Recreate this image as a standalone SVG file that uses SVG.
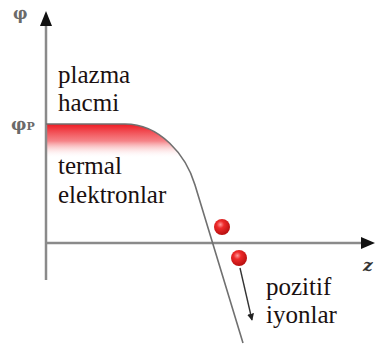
<svg xmlns="http://www.w3.org/2000/svg" width="375" height="349" viewBox="0 0 375 349">
<style>
.lbl{font-family:'Liberation Serif','Times New Roman',serif;font-size:25px;fill:#1a1010}
.sym{font-family:'DejaVu Serif',serif;fill:#6a6a6a;font-weight:bold}
.axis{stroke:#8a8a8a;stroke-width:2.5;fill:none}
</style>
<defs>
<linearGradient id="fade" gradientUnits="userSpaceOnUse" x1="0" y1="124" x2="0" y2="158">
<stop offset="0" stop-color="#ee1a22" stop-opacity="1"/>
<stop offset="0.5" stop-color="#f25a60" stop-opacity="0.75"/>
<stop offset="1" stop-color="#ffffff" stop-opacity="0"/>
</linearGradient>
<radialGradient id="ball" cx="0.4" cy="0.35" r="0.65">
<stop offset="0" stop-color="#ff9a9a"/>
<stop offset="0.35" stop-color="#ee2a2a"/>
<stop offset="1" stop-color="#b80f0f"/>
</radialGradient>
<marker id="ah" viewBox="0 0 10 10" refX="9" refY="5" markerWidth="7" markerHeight="7" orient="auto" markerUnits="userSpaceOnUse">
<path d="M0,0 L10,5 L0,10 Z" fill="#222"/>
</marker>
</defs>
<g id="fill">
<path d="M46,124 H125 C160,124 186,155 195,185 L46,185 Z" fill="url(#fade)"/>
</g>
<g id="axes">
<line class="axis" x1="46" y1="24" x2="46" y2="280"/>
<path d="M46,11 L40,26 L52,26 Z" fill="#111"/>
<line class="axis" x1="46" y1="243" x2="362" y2="243"/>
<path d="M375,243 L361,237 L361,249 Z" fill="#111"/>
</g>
<g id="curve">
<path d="M46,124 H125 C160,124 186,155 195,185 L243,343" fill="none" stroke="#707070" stroke-width="1.6"/>
</g>
<g id="ions">
<circle cx="222" cy="227" r="8" fill="url(#ball)"/>
<circle cx="239" cy="258" r="8" fill="url(#ball)"/>
</g>
<g id="connectors">
<line x1="240" y1="268" x2="252" y2="320" stroke="#333" stroke-width="1.4" marker-end="url(#ah)"/>
</g>
<g id="labels">
<text class="sym" x="13" y="19" font-size="16">φ</text>
<text class="sym" x="11" y="130" font-size="17">φ<tspan font-size="11">P</tspan></text>
<text x="363" y="271" font-family="DejaVu Serif" font-size="17" font-style="italic" font-weight="bold" fill="#333">z</text>
<text class="lbl" x="58" y="83">plazma</text>
<text class="lbl" x="58" y="111">hacmi</text>
<text class="lbl" x="58" y="174">termal</text>
<text class="lbl" x="58" y="203">elektronlar</text>
<text class="lbl" x="266" y="295">pozitif</text>
<text class="lbl" x="266" y="323">iyonlar</text>
</g>
</svg>
